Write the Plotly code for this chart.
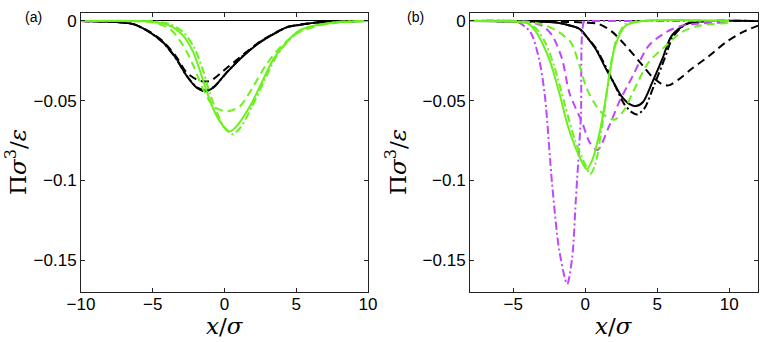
import plotly.graph_objects as go
from plotly.subplots import make_subplots

# ---- panel (a) ----
a_black_solid_x = [-10, -7.5, -6.35, -5.2, -4.28, -3.33, -2.63, -1.94, -1.36, -0.78, 0.15, 1.31, 2.47, 3.64, 4.33, 5.2, 6.4, 8, 10]
a_black_solid_y = [0, -0.0007, -0.002, -0.0071, -0.0134, -0.024, -0.0345, -0.0418, -0.044, -0.0418, -0.0324, -0.0219, -0.0134, -0.0071, -0.004, -0.0025, -0.001, -0.0003, 0]
a_black_dash_x = [-10, -7.5, -6.35, -5.2, -4.28, -3.33, -2.63, -1.7, -1.0, -0.08, 1.31, 2.47, 3.64, 4.33, 5.2, 6.4, 8, 10]
a_black_dash_y = [0, -0.0007, -0.002, -0.0068, -0.0128, -0.0228, -0.0324, -0.0376, -0.0376, -0.0313, -0.021, -0.013, -0.0069, -0.0039, -0.0024, -0.001, -0.0003, 0]
a_black_dashdot_x = [-10, -7.5, -6.35, -5.2, -4.28, -3.33, -2.63, -1.94, -1.3, -0.7, 0.2, 1.31, 2.47, 3.64, 4.33, 5.2, 6.4, 8, 10]
a_black_dashdot_y = [0, -0.0007, -0.002, -0.0072, -0.0136, -0.0243, -0.0345, -0.0415, -0.0433, -0.041, -0.0318, -0.0216, -0.0133, -0.0071, -0.004, -0.0025, -0.001, -0.0003, 0]

a_green_solid_x = [-10, -6, -5.2, -3.8, -2.87, -2.17, -1.59, -1.13, -0.66, -0.08, 0.37, 0.85, 1.78, 2.7, 3.4, 4.1, 5.2, 7.56, 10]
a_green_solid_y = [0, 0, -0.0003, -0.003, -0.0093, -0.0197, -0.0345, -0.047, -0.0576, -0.066, -0.0693, -0.066, -0.0534, -0.0366, -0.024, -0.0156, -0.006, -0.001, 0]
a_green_dash_x = [-10, -6, -5, -3.8, -2.87, -2.17, -1.48, -0.78, 0.15, 1.08, 2.0, 2.94, 3.87, 5.0, 6.5, 8, 10]
a_green_dash_y = [0, -0.0003, -0.001, -0.005, -0.0155, -0.028, -0.043, -0.0534, -0.0566, -0.0534, -0.041, -0.027, -0.0166, -0.008, -0.003, -0.001, 0]
a_green_dashdot_x = [-10, -6, -5, -3.8, -2.87, -2.1, -1.5, -1.0, -0.5, 0, 0.55, 1.1, 1.9, 2.8, 3.5, 4.2, 5.3, 7.5, 10]
a_green_dashdot_y = [0, 0, -0.0002, -0.002, -0.007, -0.017, -0.031, -0.046, -0.058, -0.067, -0.071, -0.067, -0.054, -0.037, -0.024, -0.015, -0.006, -0.001, 0]

# ---- panel (b) ----
b_black_solid_x = [-8, -4, -2, -1, -0.4, 0.2, 0.74, 1.44, 2.0, 2.5, 3.05, 3.5, 4.0, 4.65, 5.35, 6.0, 7, 8, 12]
b_black_solid_y = [0, -0.0003, -0.001, -0.003, -0.005, -0.011, -0.0177, -0.03, -0.039, -0.047, -0.052, -0.0534, -0.051, -0.0387, -0.024, -0.0093, -0.002, -0.0003, 0]
b_black_dashdot_x = [-8, -4, -2, -1, -0.4, 0.2, 0.74, 1.5, 2.1, 2.7, 3.2, 3.6, 4.1, 4.8, 5.5, 6.1, 7, 8, 12]
b_black_dashdot_y = [0, -0.0003, -0.001, -0.003, -0.005, -0.011, -0.017, -0.03, -0.041, -0.052, -0.057, -0.0586, -0.055, -0.04, -0.024, -0.01, -0.002, -0.0003, 0]
b_black_dash_x = [-8, -2, 0, 0.97, 1.9, 2.82, 4.0, 4.65, 5.35, 5.8, 6.5, 7.4, 8.6, 9.76, 10.9, 12]
b_black_dash_y = [0, -0.0005, -0.001, -0.002, -0.007, -0.0156, -0.028, -0.035, -0.0397, -0.0404, -0.0366, -0.030, -0.022, -0.0134, -0.0071, -0.003]

b_green_solid_x = [-8, -5, -4, -3.4, -2.5, -1.8, -1.2, -0.5, 0.1, 0.5, 1.0, 1.4, 1.7, 2.1, 2.8, 4, 10]
b_green_solid_y = [0, -0.0003, -0.0015, -0.007, -0.024, -0.045, -0.066, -0.083, -0.093, -0.087, -0.07, -0.05, -0.033, -0.015, -0.003, 0, 0]
b_green_dashdot_x = [-8, -4.5, -3.5, -2.8, -2.1, -1.4, -0.7, 0, 0.35, 0.7, 1.1, 1.5, 1.8, 2.2, 2.8, 4, 10]
b_green_dashdot_y = [0, -0.0003, -0.004, -0.013, -0.03, -0.053, -0.075, -0.09, -0.096, -0.09, -0.07, -0.045, -0.026, -0.011, -0.002, 0, 0]
b_green_dash_x = [-8, -4, -3, -2, -1, -0.4, 0.05, 0.6, 1.2, 2.0, 2.7, 3.3, 4.4, 5.6, 6.7, 7.9, 10]
b_green_dash_y = [0, -0.0005, -0.002, -0.006, -0.0134, -0.028, -0.041, -0.051, -0.058, -0.062, -0.056, -0.045, -0.026, -0.0156, -0.007, -0.003, -0.0013]

b_purple_dashdot_x = [-8, -5, -4.6, -3.8, -3.2, -2.8, -2.3, -1.8, -1.25, -0.9, -0.65, -0.3, -0.05, 0.3, 10]
b_purple_dashdot_y = [0, -0.0002, -0.001, -0.007, -0.024, -0.047, -0.102, -0.144, -0.165, -0.148, -0.112, -0.06, 0, 0, 0]
b_purple_dash_x = [-8, -4, -3, -2.3, -1.6, -1.1, -0.2, 0.3, 0.85, 1.66, 2.4, 3.3, 4.4, 5.6, 6.7, 8, 10]
b_purple_dash_y = [0, -0.0005, -0.003, -0.009, -0.024, -0.045, -0.064, -0.076, -0.081, -0.066, -0.05, -0.0345, -0.0156, -0.0071, -0.003, -0.0015, -0.001]

y_ticks = [0, -0.05, -0.1, -0.15]

BLACK = "black"
GREEN = "#6cf01e"
PURPLE = "#bf48ff"
DASH = "8px,5px"
DASHDOT = "8px,3px,2px,3px"

fig = make_subplots(rows=1, cols=2)

def add(x, y, color, dash, col, shape="spline"):
    fig.add_trace(go.Scatter(
        x=x, y=y, mode="lines",
        line=dict(color=color, width=2, dash=dash, shape=shape, smoothing=0.8),
        showlegend=False, hoverinfo="skip",
    ), row=1, col=col)

add(a_black_dash_x, a_black_dash_y, BLACK, DASH, 1)
add(a_black_dashdot_x, a_black_dashdot_y, BLACK, DASHDOT, 1)
add(a_black_solid_x, a_black_solid_y, BLACK, "solid", 1)
add(a_green_dash_x, a_green_dash_y, GREEN, DASH, 1)
add(a_green_dashdot_x, a_green_dashdot_y, GREEN, DASHDOT, 1)
add(a_green_solid_x, a_green_solid_y, GREEN, "solid", 1)

add(b_black_dash_x, b_black_dash_y, BLACK, DASH, 2)
add(b_black_dashdot_x, b_black_dashdot_y, BLACK, DASHDOT, 2)
add(b_black_solid_x, b_black_solid_y, BLACK, "solid", 2)
add(b_purple_dash_x, b_purple_dash_y, PURPLE, DASH, 2)
add(b_purple_dashdot_x, b_purple_dashdot_y, PURPLE, DASHDOT, 2)
add(b_green_dash_x, b_green_dash_y, GREEN, DASH, 2)
add(b_green_dashdot_x, b_green_dashdot_y, GREEN, DASHDOT, 2)
add(b_green_solid_x, b_green_solid_y, GREEN, "solid", 2)

W, H = 763, 342
axis_common = dict(
    showline=True, linecolor="#222", linewidth=1, mirror="ticks",
    ticks="inside", ticklen=4, tickcolor="#222", showgrid=False,
    automargin=False,
    tickfont=dict(family="Liberation Sans, Arial", size=17, color="black"),
)
fig.update_xaxes(**axis_common, zeroline=False, ticklabelstandoff=-3)
fig.update_yaxes(**axis_common, range=[-0.17, 0.005], tickvals=y_ticks,
                 zeroline=True, zerolinecolor="black", zerolinewidth=1)
fig.update_xaxes(range=[-10, 10], tickvals=[-10, -5, 0, 5, 10], domain=[81 / W, 368 / W], row=1, col=1)
fig.update_xaxes(range=[-8, 12], tickvals=[-5, 0, 5, 10], domain=[470 / W, 758 / W], row=1, col=2)
fig.update_yaxes(domain=[1 - 292 / H, 1 - 13 / H])

serif = "DejaVu Serif, Liberation Serif, serif"
ytitle = "Π<i>σ</i><sup>3</sup>/<i>ε</i>"
xtitle = "<i>x</i>/<i>σ</i>"
annotations = [
    dict(text="(a)", x=33 / W, y=1 - 17 / H, font=dict(family="Liberation Sans, Arial", size=14)),
    dict(text="(b)", x=415 / W, y=1 - 17 / H, font=dict(family="Liberation Sans, Arial", size=14)),
    dict(text=ytitle, x=16 / W, y=1 - 162 / H, textangle=-90, font=dict(family=serif, size=23)),
    dict(text=ytitle, x=396 / W, y=1 - 162 / H, textangle=-90, font=dict(family=serif, size=23)),
    dict(text=xtitle, x=225 / W, y=1 - 326 / H, font=dict(family=serif, size=23)),
    dict(text=xtitle, x=614 / W, y=1 - 326 / H, font=dict(family=serif, size=23)),
]
for a in annotations:
    a.update(xref="paper", yref="paper", showarrow=False, xanchor="center", yanchor="middle")
    a["font"]["color"] = "black"

fig.update_layout(
    width=W, height=H, autosize=False,
    margin=dict(l=0, r=0, t=0, b=0),
    paper_bgcolor="white", plot_bgcolor="white",
    annotations=annotations,
)

# drop the default 8px page margin so the figure sits at the window's corner
fig.write_html("out.html", config={"displayModeBar": False},
               post_script="document.body.style.margin='0';")
